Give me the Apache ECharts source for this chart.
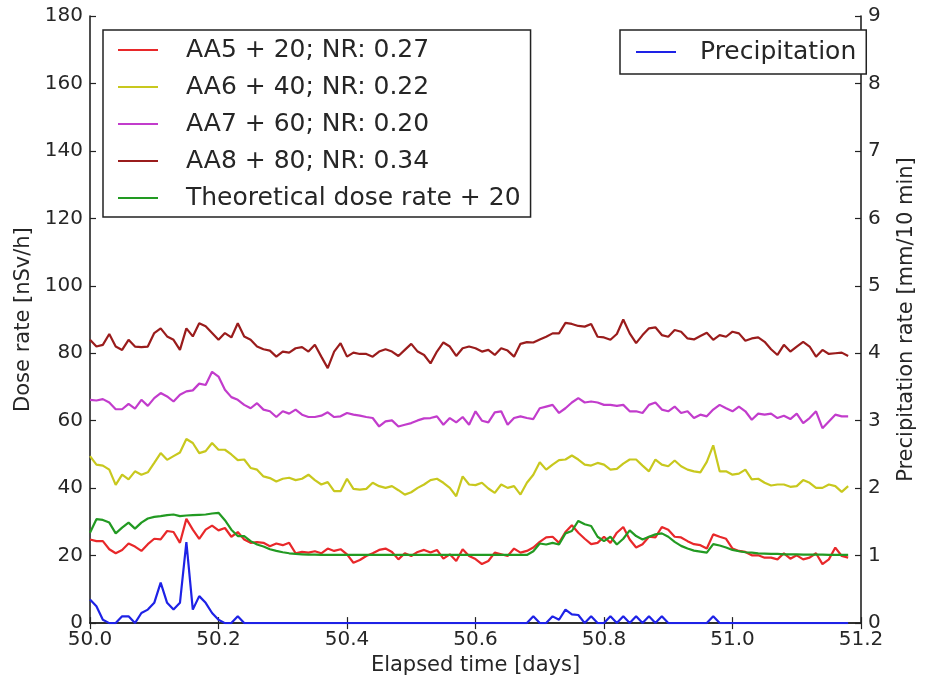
<!DOCTYPE html>
<html>
<head>
<meta charset="utf-8">
<script src="https://cdn.jsdelivr.net/npm/echarts@6/dist/echarts.min.js"></script>
<style>
html,body{margin:0;padding:0;background:#fff;}
#chart{width:925px;height:681px;}
</style>
</head>
<body>
<div id="chart"></div>
<script>
// Time grid (days): start and step of the sampled readings
const tStart = 50.0;
const tStep = 0.01;

// Tick labels
const xTicks = ["50.0", "50.2", "50.4", "50.6", "50.8", "51.0", "51.2"];

// Series names
const seriesNames = [
  "AA5 + 20; NR: 0.27",
  "AA6 + 40; NR: 0.22",
  "AA7 + 60; NR: 0.20",
  "AA8 + 80; NR: 0.34",
  "Theoretical dose rate + 20",
  "Precipitation"
];

// AA5 + 20 (nSv/h)
const aa5 = [
  24.8, 24.3, 24.3, 21.9, 20.7, 21.7, 23.6, 22.7, 21.4, 23.4, 25, 24.8, 27.3, 27, 23.8, 30.9, 27.7, 25, 27.7, 28.9, 27.5, 28.2, 25.6, 27, 24.8, 23.8, 24, 23.8, 22.8, 23.6,
  23.1, 23.8, 20.7, 21.1, 20.9, 21.3, 20.7, 22.1, 21.4, 21.9, 20.4, 17.9, 18.7, 19.9, 20.7, 21.7, 22.1, 21.1, 18.9, 20.7, 19.9, 21.1, 21.7, 20.9, 21.7, 19.1, 20.4, 18.4, 21.9, 19.9,
  19, 17.5, 18.4, 20.9, 20.4, 19.9, 22.1, 20.9, 21.4, 22.4, 24.1, 25.4, 25.6, 23.8, 27, 29, 26.8, 25, 23.4, 23.8, 25.6, 23.8, 26.8, 28.5, 24.8, 22.4, 23.4, 25.6, 25.4, 28.5,
  27.7, 25.6, 25.4, 24.3, 23.4, 23.1, 22.1, 26.3, 25.6, 25, 22.1, 21.4, 21.1, 20.1, 20.1, 19.4, 19.4, 18.9, 20.7, 19.1, 20.1, 18.9, 19.4, 20.7, 17.5, 18.9, 22.4, 19.9, 19.4
];
// AA6 + 40
const aa6 = [
  49.5, 47, 46.7, 45.5, 41, 44, 42.6, 45, 44, 44.7, 47.5, 50.4, 48.4, 49.5, 50.6, 54.6, 53.4, 50.4, 51, 53.4, 51.4, 51.4, 50, 48.3, 48.5, 46, 45.5, 43.5, 43, 42,
  42.8, 43.1, 42.4, 42.8, 44, 42.4, 41.1, 41.8, 39.1, 39.1, 42.8, 39.8, 39.6, 39.8, 41.6, 40.6, 40.1, 40.6, 39.4, 38.1, 38.8, 40.1, 41.1, 42.4, 42.8, 41.6, 40.1, 37.6, 43.5, 41.1,
  40.9, 41.6, 39.9, 38.6, 41.1, 40.1, 40.6, 38.1, 41.6, 44, 47.7, 45.5, 47, 48.3, 48.5, 49.7, 48.5, 47, 46.7, 47.5, 47, 45.5, 45.7, 47.3, 48.5, 48.5, 46.7, 45, 48.5, 47,
  46.5, 48.2, 46.5, 45.5, 45, 44.7, 47.8, 52.7, 45, 45, 44, 44.3, 45.5, 42.6, 42.8, 41.6, 40.8, 41.1, 41.1, 40.4, 40.6, 42.4, 41.6, 40.1, 40.1, 41.1, 40.6, 38.9, 40.6
];
// AA7 + 60
const aa7 = [
  66.2, 66, 66.4, 65.4, 63.4, 63.4, 65, 63.6, 66.2, 64.4, 66.7, 68.2, 67.2, 65.7, 67.7, 68.7, 69, 71, 70.6, 74.5, 73.1, 69.2, 67, 66.2, 64.7, 63.7, 65.2, 63.3, 62.8, 61.1,
  62.8, 62.1, 63.3, 61.8, 61.1, 61.1, 61.5, 62.5, 61.1, 61.3, 62.3, 61.8, 61.5, 61.1, 60.8, 58.3, 59.8, 60.1, 58.3, 58.8, 59.3, 60.1, 60.7, 60.8, 61.3, 58.8, 60.8, 59.5, 61.1, 58.8,
  62.8, 60, 59.5, 62.5, 62.8, 58.8, 60.8, 61.3, 60.8, 60.5, 63.7, 64.2, 64.7, 62.3, 63.7, 65.4, 66.7, 65.4, 65.7, 65.4, 64.7, 64.7, 64.4, 64.7, 62.8, 62.8, 62.3, 64.7, 65.4, 63.3,
  62.8, 64.2, 62.3, 62.8, 60.8, 61.8, 61.3, 63.3, 64.7, 63.7, 62.8, 64.2, 62.8, 60.3, 62.1, 61.8, 62.1, 60.8, 61.5, 60.5, 62.1, 59.3, 60.8, 62.8, 57.8, 59.8, 61.8, 61.3, 61.3
];
// AA8 + 80
const aa8 = [
  84, 82, 82.5, 85.7, 82, 81, 84, 82, 81.8, 82, 86, 87.4, 85, 84, 81, 87.4, 85, 88.9, 88, 86, 84, 86, 84.7, 88.9, 85, 84, 82, 81.2, 80.8, 79,
  80.5, 80.2, 81.5, 81.8, 80.5, 82.5, 79, 75.6, 80.5, 83, 79, 80.2, 79.8, 79.8, 79, 80.5, 81.2, 80.5, 79.2, 81, 82.8, 80.5, 79.5, 77, 80.5, 83.2, 82, 79.2, 81.5, 82,
  81.5, 80.5, 81, 79.5, 81.5, 80.8, 79, 82.8, 83.3, 83.2, 84.1, 84.9, 85.9, 85.9, 89, 88.7, 88.1, 87.9, 88.7, 84.9, 84.7, 84, 85.7, 90, 85.9, 83, 85.4, 87.4, 87.7, 85.4,
  84.9, 86.9, 86.4, 84.4, 84.1, 85.1, 86.1, 84, 85.4, 84.9, 86.4, 85.9, 83.7, 84.4, 84.7, 83.4, 81.2, 79.5, 82.5, 80.5, 82, 83.4, 82, 79, 81, 79.8, 80, 80.2, 79.2
];
// Theoretical dose rate + 20
const theory = [
  26.8, 30.8, 30.6, 29.8, 26.6, 28.3, 29.8, 28, 29.8, 31, 31.5, 31.7, 32, 32.2, 31.7, 31.9, 32, 32.1, 32.2, 32.5, 32.7, 30.5, 27.7, 25.8, 25.8, 24.3, 23.3, 22.7, 21.9, 21.4,
  21, 20.7, 20.5, 20.4, 20.3, 20.3, 20.2, 20.2, 20.2, 20.2, 20.2, 20.2, 20.2, 20.2, 20.2, 20.2, 20.2, 20.2, 20.2, 20.2, 20.2, 20.2, 20.2, 20.2, 20.2, 20.2, 20.2, 20.2, 20.2, 20.2,
  20.2, 20.2, 20.2, 20.2, 20.2, 20.2, 20.2, 20.2, 20.2, 21.3, 23.6, 23.3, 23.8, 23.3, 26.6, 27.3, 30.3, 29.3, 28.8, 25.6, 24.3, 25.6, 23.3, 25, 27.5, 25.8, 24.8, 25.6, 26.3, 26.6,
  25.6, 24.1, 22.9, 22.1, 21.5, 21.2, 20.9, 23.4, 23, 22.4, 21.7, 21.3, 21, 20.9, 20.7, 20.6, 20.5, 20.5, 20.4, 20.4, 20.4, 20.3, 20.3, 20.3, 20.3, 20.2, 20.2, 20.2, 20.2
];
// Precipitation (mm/10 min)
const precip = [
  0.35, 0.25, 0.05, 0, 0, 0.1, 0.1, 0, 0.15, 0.2, 0.3, 0.6, 0.3, 0.2, 0.3, 1.2, 0.2, 0.4, 0.3, 0.15, 0.05, 0, 0, 0.1, 0, 0, 0, 0, 0, 0,
  0, 0, 0, 0, 0, 0, 0, 0, 0, 0, 0, 0, 0, 0, 0, 0, 0, 0, 0, 0, 0, 0, 0, 0, 0, 0, 0, 0, 0, 0,
  0, 0, 0, 0, 0, 0, 0, 0, 0, 0.1, 0, 0, 0.1, 0.05, 0.2, 0.13, 0.12, 0, 0.1, 0, 0, 0.1, 0, 0.1, 0, 0.1, 0, 0.1, 0, 0.1,
  0, 0, 0, 0, 0, 0, 0, 0.1, 0, 0, 0, 0, 0, 0, 0, 0, 0, 0, 0, 0, 0, 0, 0, 0, 0, 0, 0, 0, 0
];

const colors = ["#e8282a", "#c8c81e", "#c23ccc", "#9a1c1c", "#229a22", "#1e22e6"];

function pairs(arr) {
  return arr.map((v, i) => [tStart + i * tStep, v]);
}

const font = "DejaVu Sans";
const txt = "#262626";

const axisLineStyle = { show: true, lineStyle: { color: "#222", width: 1.6 } };
const tickStyle = { show: true, inside: true, length: 6, lineStyle: { color: "#222", width: 1.2 } };

const chart = echarts.init(document.getElementById("chart"), null, { renderer: "canvas" });

const lineSeries = [aa5, aa6, aa7, aa8, theory].map((arr, k) => ({
  name: seriesNames[k],
  type: "line",
  xAxisIndex: 0,
  yAxisIndex: 0,
  data: pairs(arr),
  symbol: "none",
  showSymbol: false,
  lineStyle: { color: colors[k], width: 2.2 },
  itemStyle: { color: colors[k] },
  animation: false,
  z: 3
}));

lineSeries.push({
  name: seriesNames[5],
  type: "line",
  xAxisIndex: 0,
  yAxisIndex: 1,
  data: pairs(precip),
  symbol: "none",
  showSymbol: false,
  lineStyle: { color: colors[5], width: 2.2 },
  itemStyle: { color: colors[5] },
  animation: false,
  z: 4
});

const legendCommon = {
  orient: "vertical",
  borderColor: "#222",
  borderWidth: 1.5,
  borderRadius: 0,
  backgroundColor: "#fff",
  itemWidth: 40,
  itemHeight: 14,
  itemGap: 9,
  icon: "path://M0,6 L40,6 L40,8 L0,8 Z"
};

chart.setOption({
  backgroundColor: "#fff",
  animation: false,
  grid: { left: 90, right: 49, top: 16, bottom: 56, containLabel: false },
  legend: [
    Object.assign({}, legendCommon, {
      data: seriesNames.slice(0, 5),
      left: 103,
      top: 30,
      padding: [6, 10, 5, 15],
      textStyle: { fontFamily: font, fontSize: 25, color: txt, lineHeight: 28, padding: [0, 0, 0, 23] }
    }),
    Object.assign({}, legendCommon, {
      data: [seriesNames[5]],
      left: 620,
      top: 30,
      padding: [8, 10, 8, 16],
      textStyle: { fontFamily: font, fontSize: 25, color: txt, lineHeight: 28, padding: [0, 0, 0, 19] }
    })
  ],
  xAxis: [
    {
      type: "value",
      min: 50,
      max: 51.2,
      interval: 0.2,
      position: "bottom",
      name: "Elapsed time [days]",
      nameLocation: "middle",
      nameGap: 30,
      nameTextStyle: { fontFamily: font, fontSize: 21, color: txt },
      axisLine: axisLineStyle,
      axisTick: tickStyle,
      splitLine: { show: false },
      axisLabel: {
        margin: 7,
        fontFamily: font,
        fontSize: 20,
        color: txt,
        formatter: (v) => xTicks[Math.round((v - 50) / 0.2)] || ""
      }
    },
    {
      type: "value",
      min: 50,
      max: 51.2,
      interval: 0.2,
      position: "top",
      axisLine: axisLineStyle,
      axisTick: tickStyle,
      splitLine: { show: false },
      axisLabel: { show: false }
    }
  ],
  yAxis: [
    {
      type: "value",
      min: 0,
      max: 180,
      interval: 20,
      position: "left",
      name: "Dose rate [nSv/h]",
      nameLocation: "middle",
      nameGap: 46,
      nameRotate: 90,
      nameTextStyle: { fontFamily: font, fontSize: 21, color: txt },
      axisLine: axisLineStyle,
      axisTick: tickStyle,
      splitLine: { show: false },
      axisLabel: { margin: 7, fontFamily: font, fontSize: 20, color: txt }
    },
    {
      type: "value",
      min: 0,
      max: 9,
      interval: 1,
      position: "right",
      name: "Precipitation rate [mm/10 min]",
      nameLocation: "middle",
      nameGap: 35,
      nameRotate: 90,
      nameTextStyle: { fontFamily: font, fontSize: 21, color: txt },
      axisLine: axisLineStyle,
      axisTick: tickStyle,
      splitLine: { show: false },
      axisLabel: { margin: 7, fontFamily: font, fontSize: 20, color: txt }
    }
  ],
  series: lineSeries
});
</script>
</body>
</html>
